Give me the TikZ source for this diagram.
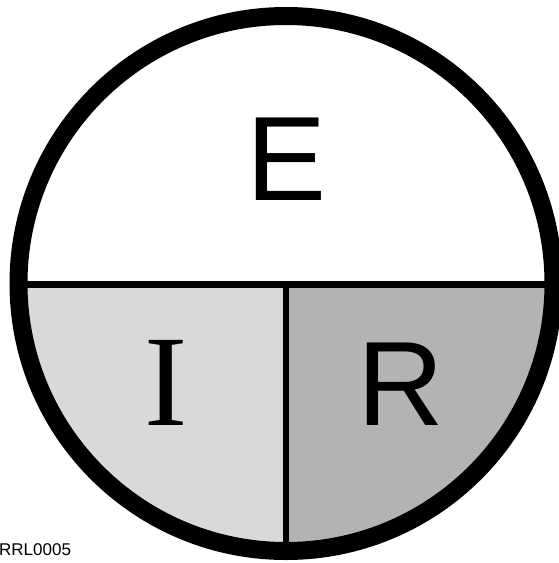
\documentclass[tikz,border=0pt]{standalone}
\usepackage{fontspec}
\setmainfont{Liberation Sans}
\newfontfamily\serifI{Liberation Serif}
\begin{document}
\begin{tikzpicture}[x=1pt,y=-1pt,
  ring/.style={line width=18pt,draw=black},
  divider/.style={line width=7pt,draw=black},
  letter/.style={inner sep=0pt,font=\fontsize{120}{120}\selectfont},
  lightpart/.style={fill={rgb,255:red,217;green,217;blue,217}},
  darkpart/.style={fill={rgb,255:red,179;green,179;blue,179}}]
\useasboundingbox (0,0) rectangle (559,563);
\coordinate (c) at (286,283.5);
\def\R{267.5}
% lower halves
\begin{scope}
  \clip (c) circle (\R);
  \path[lightpart] (0,284) rectangle (286,563);
  \path[darkpart] (286,284) rectangle (559,563);
\end{scope}
\coordinate (hl) at (10,284);
\coordinate (hr) at (565,284);
\coordinate (vt) at (286,284);
\coordinate (vb) at (286,555);
\begin{scope}
  \clip (c) circle (\R);
  \draw[divider] (hl) -- (hr);
  \draw[line width=6pt] (vt) -- (vb);
\end{scope}
\draw[ring] (c) circle (\R);
\node[letter,anchor=base] (E) at (287,200) {E};
\node[inner sep=0pt,anchor=base,font=\serifI\fontsize{130}{130}\selectfont] (I) at (166,425) {I};
\node[letter,anchor=base] (Rl) at (401,425) {R};
\node[inner sep=0pt,anchor=base west,font=\fontsize{17}{17}\selectfont] (lbl) at (-1,555) {RRL0005};
\end{tikzpicture}
\end{document}
